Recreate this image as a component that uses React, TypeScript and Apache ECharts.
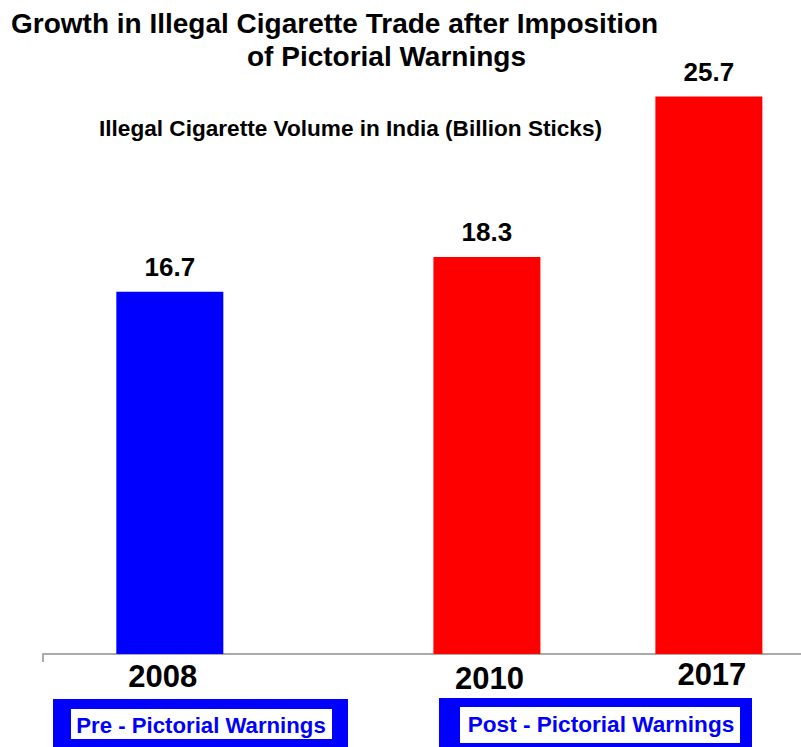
import React, { useEffect, useRef } from "react";
import * as echarts from "echarts";

// ---- data ----
const years = ["2008", "2010", "2017"];
const volumes = [16.7, 18.3, 25.7];
const barColors = ["#0000ff", "#ff0000", "#ff0000"];
const titleLines = ["Growth in Illegal Cigarette Trade after Imposition", "of Pictorial Warnings"];
const subtitle = "Illegal Cigarette Volume in India (Billion Sticks)";
const periodLabels = ["Pre - Pictorial Warnings", "Post - Pictorial Warnings"];

// ---- layout (slot of each year on a 25-slot axis, label fine-tuning) ----
const SLOT_COUNT = 25;
const yearSlots = [4, 14, 21];
const labelPad: number[][] = [
  [2, 14, 0, 0],
  [4, 0, 0, 5],
  [0, 0, 0, 6],
];

const FONT = "'Liberation Sans', Arial, Helvetica, sans-serif";

export default function App() {
  const ref = useRef<HTMLDivElement>(null);

  useEffect(() => {
    if (!ref.current) return;
    const chart = echarts.init(ref.current, undefined, { renderer: "svg" });

    const categories: string[] = Array.from({ length: SLOT_COUNT }, () => "");
    const seriesData: any[] = Array.from({ length: SLOT_COUNT }, () => null);
    years.forEach((y, i) => {
      categories[yearSlots[i]] = y;
      seriesData[yearSlots[i]] = { value: volumes[i], itemStyle: { color: barColors[i] } };
    });

    const rich: any = {};
    years.forEach((y, i) => {
      rich["y" + i] = {
        fontSize: 31,
        fontWeight: "bold",
        fontFamily: FONT,
        color: "#000",
        padding: labelPad[i],
      };
    });

    const boxes = [
      { outer: [53, 699, 295, 60], inner: [71, 709, 261, 30], cx: 201, cy: 725, fs: 22.2 },
      { outer: [439, 698, 313, 60], inner: [460, 707, 280, 36], cx: 601, cy: 724, fs: 22.6 },
    ];
    const graphics: any[] = [];
    boxes.forEach((b, i) => {
      graphics.push({
        type: "rect",
        shape: { x: b.outer[0], y: b.outer[1], width: b.outer[2], height: b.outer[3] },
        style: { fill: "#0000ff" },
        silent: true,
      });
      graphics.push({
        type: "rect",
        shape: { x: b.inner[0], y: b.inner[1], width: b.inner[2], height: b.inner[3] },
        style: { fill: "#ffffff" },
        silent: true,
      });
      graphics.push({
        type: "text",
        x: b.cx,
        y: b.cy,
        style: {
          text: periodLabels[i],
          fill: "#0000ff",
          font: `bold ${b.fs}px ${FONT}`,
          align: "center",
          verticalAlign: "middle",
        },
        silent: true,
      });
    });

    chart.setOption({
      animation: false,
      backgroundColor: "#ffffff",
      title: [
        {
          text: titleLines[0],
          left: 11,
          top: 9,
          padding: 0,
          textStyle: { fontSize: 28, fontWeight: "bold", fontFamily: FONT, color: "#000" },
        },
        {
          text: titleLines[1],
          left: 247,
          top: 42,
          padding: 0,
          textStyle: { fontSize: 28, fontWeight: "bold", fontFamily: FONT, color: "#000" },
        },
        {
          text: subtitle,
          left: 99,
          top: 117,
          padding: 0,
          textStyle: { fontSize: 22.6, fontWeight: "bold", fontFamily: FONT, color: "#000" },
        },
      ],
      grid: { left: 43, width: 761, top: 90, bottom: 93, containLabel: false, outerBoundsMode: "none" },
      xAxis: {
        type: "category",
        data: categories,
        boundaryGap: false,
        axisLine: { show: true, lineStyle: { color: "#aaaaaa", width: 2 } },
        axisTick: {
          show: true,
          interval: (idx: number) => idx === 0,
          length: 8,
          lineStyle: { color: "#aaaaaa", width: 2 },
        },
        axisLabel: {
          interval: 0,
          margin: 5,
          formatter: (v: string) => {
            const i = years.indexOf(v);
            return i >= 0 ? `{y${i}|${v}}` : "";
          },
          rich,
        },
        splitLine: { show: false },
      },
      yAxis: {
        type: "value",
        min: 0,
        max: 26,
        show: false,
        splitLine: { show: false },
      },
      series: [
        {
          type: "bar",
          data: seriesData,
          barWidth: 107,
          label: {
            show: true,
            position: "top",
            distance: 12,
            fontSize: 26,
            fontWeight: "bold",
            fontFamily: FONT,
            color: "#000",
            formatter: (p: any) => Number(p.value).toFixed(1),
          },
        },
      ],
      graphic: graphics,
    });

    return () => chart.dispose();
  }, []);

  return (
    <div
      ref={ref}
      style={{ position: "fixed", left: 0, top: 0, width: 801, height: 747, background: "#fff" }}
    />
  );
}
